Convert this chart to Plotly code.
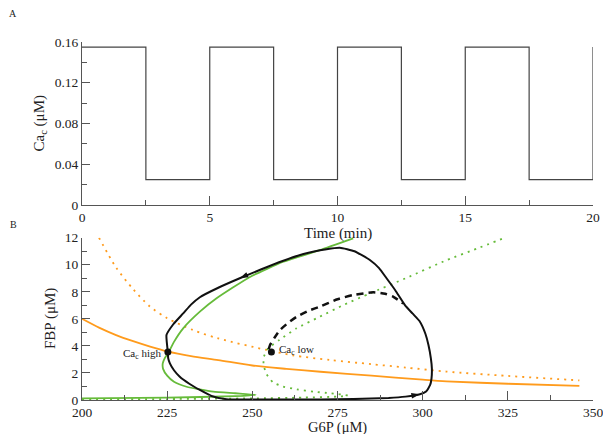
import plotly.graph_objects as go

# ---------------- Panel A data ----------------
time_min = [0, 2.5, 2.5, 5, 5, 7.5, 7.5, 10, 10, 12.5, 12.5, 15, 15, 17.5, 17.5, 20, 20]
ca_c = [0.155, 0.155, 0.025, 0.025, 0.155, 0.155, 0.025, 0.025, 0.155, 0.155,
        0.025, 0.025, 0.155, 0.155, 0.025, 0.025, 0.155]

# ---------------- Panel B data ----------------
orange_solid_x = [200, 205, 210, 215, 220, 225, 232, 240, 250, 260, 270, 285, 300, 307, 325, 346]
orange_solid_y = [6.0, 5.35, 4.8, 4.35, 3.95, 3.6, 3.25, 2.95, 2.55, 2.3, 2.09, 1.8, 1.5, 1.38, 1.2, 1.05]

orange_dot_x = [205, 210, 215, 220, 225, 232.6, 240, 254.2, 262, 272.8, 285, 295, 307, 325, 346]
orange_dot_y = [12.0, 9.8, 8.2, 6.9, 6.05, 5.17, 4.55, 3.7, 3.3, 2.96, 2.65, 2.4, 2.1, 1.78, 1.45]

green_solid_x = [200, 225, 245, 251, 245, 238.5, 230.7, 227, 225, 223.8, 223.7, 224.3, 225.4,
                 227, 229.7, 234.6, 239.5, 249.3, 259.1, 269.8, 279.6]
green_solid_y = [0.12, 0.18, 0.28, 0.38, 0.5, 0.62, 0.98, 1.35, 1.8, 2.3, 2.7, 3.1, 3.52,
                 4.3, 5.3, 6.53, 7.52, 9.1, 10.22, 11.08, 11.95]

green_dot_x = [200, 225, 250, 265, 275, 278, 276, 272.8, 268, 263, 259, 256.1, 254.2, 253.3,
               253.4, 254.3, 255.5, 258, 263, 269.8, 277, 284.5, 295, 307.1, 316, 324.7]
green_dot_y = [0.05, 0.07, 0.12, 0.18, 0.25, 0.32, 0.42, 0.5, 0.62, 0.79, 1.0, 1.3, 1.9, 2.6,
               3.2, 3.7, 4.0, 4.45, 5.3, 6.16, 7.05, 7.88, 9.0, 10.35, 11.2, 12.05]

loop_x = [225.2, 224.8, 226.8, 229.7, 232, 234.6, 240, 246.3, 252.5, 259.1, 265, 271.8, 275.7,
          280, 284.5, 287.2, 289.4, 292, 294.8, 297, 299.2, 300.8, 301.7, 302.4, 302.7, 302.6,
          302.2, 301, 299.2, 295, 290, 279.7, 270, 260, 250, 242.4, 238, 234.6, 231.5, 228.7,
          227, 225.8, 225.3, 225.2]
loop_y = [3.55, 4.8, 5.6, 6.4, 7.05, 7.6, 8.3, 9.0, 9.65, 10.3, 10.8, 11.15, 11.26,
          11.0, 10.35, 9.75, 9.0, 8.1, 7.02, 6.4, 5.79, 4.9, 4.07, 3.1, 2.34, 1.6,
          1.11, 0.62, 0.42, 0.25, 0.15, 0.07, 0.04, 0.03, 0.03, 0.06, 0.3, 0.74, 1.2, 1.72,
          2.2, 2.71, 3.1, 3.55]

dash_x = [254.8, 255.2, 256.5, 258.1, 260.5, 263, 266.5, 269.8, 275, 279.6, 285.5, 289,
          291.4, 294.3]
dash_y = [3.75, 4.07, 4.6, 5.17, 5.7, 6.15, 6.6, 6.9, 7.45, 7.76, 7.96, 7.85, 7.63, 7.13]

fp_x = [225.2, 255.6]
fp_y = [3.55, 3.55]
fp_labels = ["Ca<sub>c</sub> high", "Ca<sub>c</sub> low"]

arrow_x = [246.3, 299.2]
arrow_y = [9.0, 0.42]
arrow_angle = [245, 80]

GREEN = "#66bb3a"
ORANGE = "#ff9b1c"
AXC = "#555555"
FONT = "Liberation Serif"

fig = go.Figure()

fig.add_trace(go.Scatter(x=time_min, y=ca_c, mode="lines",
                         line=dict(color="#444444", width=1.2), xaxis="x", yaxis="y"))

spl = dict(line_shape="spline")
fig.add_trace(go.Scatter(x=orange_dot_x, y=orange_dot_y, mode="lines", **spl,
                         line=dict(color=ORANGE, width=1.8, dash="2px,5px", smoothing=0.8),
                         xaxis="x2", yaxis="y2"))
fig.add_trace(go.Scatter(x=green_dot_x, y=green_dot_y, mode="lines", **spl,
                         line=dict(color=GREEN, width=1.8, dash="2px,5px", smoothing=0.6),
                         xaxis="x2", yaxis="y2"))
fig.add_trace(go.Scatter(x=orange_solid_x, y=orange_solid_y, mode="lines", **spl,
                         line=dict(color=ORANGE, width=1.8, smoothing=0.8), xaxis="x2", yaxis="y2"))
fig.add_trace(go.Scatter(x=green_solid_x, y=green_solid_y, mode="lines", **spl,
                         line=dict(color=GREEN, width=1.8, smoothing=0.5), xaxis="x2", yaxis="y2"))
fig.add_trace(go.Scatter(x=loop_x, y=loop_y, mode="lines", **spl,
                         line=dict(color="#111111", width=2, smoothing=0.45), xaxis="x2", yaxis="y2"))
fig.add_trace(go.Scatter(x=dash_x, y=dash_y, mode="lines", **spl,
                         line=dict(color="#111111", width=2.5, dash="7px,5px", smoothing=0.6),
                         xaxis="x2", yaxis="y2"))
fig.add_trace(go.Scatter(x=arrow_x, y=arrow_y, mode="markers",
                         marker=dict(symbol="arrow", angle=arrow_angle, size=9, color="#111111"),
                         xaxis="x2", yaxis="y2"))
fig.add_trace(go.Scatter(x=fp_x, y=fp_y, mode="markers",
                         marker=dict(symbol="circle", size=7, color="#111111"),
                         xaxis="x2", yaxis="y2"))

# the page body has an 8px margin: work in screen pixels and subtract it
OFF = 8
W, H = 600, 426
L = 82 - OFF
T = 42 - OFF
R = W - (593 - OFF)
B = H - (400 - OFF)
PW, PH = W - L - R, H - T - B
def px(x):
    return (x - OFF - L) / PW
def py(y):
    return (H - B - (y - OFF)) / PH

tickfont = dict(family=FONT, size=13.5, color="#222222")
common = dict(showgrid=False, zeroline=False, showline=True, linecolor=AXC, linewidth=1,
              ticks="inside", tickcolor=AXC, tickfont=tickfont, mirror=False, automargin=False)

fig.update_layout(
    width=W, height=H, autosize=False,
    margin=dict(l=L, r=R, t=T, b=B, pad=0),
    paper_bgcolor="white", plot_bgcolor="white",
    showlegend=False,
    xaxis=dict(domain=[0, 1], range=[0, 20], dtick=5, ticklen=9,
               minor=dict(ticks="inside", dtick=2.5, ticklen=5, tickcolor=AXC),
               anchor="y", **common),
    yaxis=dict(domain=[py(205), py(42)], range=[0, 0.16], dtick=0.04, ticklen=8,
               minor=dict(ticks="inside", dtick=0.02, ticklen=5, tickcolor=AXC),
               anchor="x", **common),
    xaxis2=dict(domain=[0, 1], range=[200, 350], dtick=25, ticklen=9,
                minor=dict(ticks="inside", dtick=12.5, ticklen=5, tickcolor=AXC),
                anchor="y2", **common),
    yaxis2=dict(domain=[py(400), py(237.7)], range=[0, 12], dtick=2, ticklen=8,
                minor=dict(ticks="inside", dtick=1, ticklen=5, tickcolor=AXC),
                anchor="x2", **common),
)

ann_font = dict(family=FONT, size=15, color="#222222")
small = dict(family=FONT, size=11, color="#222222")
annotations = [
    dict(text="A", x=px(13), y=py(14), xref="paper", yref="paper", showarrow=False,
         xanchor="center", yanchor="middle", font=dict(family=FONT, size=10, color="#222222")),
    dict(text="B", x=px(13), y=py(224), xref="paper", yref="paper", showarrow=False,
         xanchor="center", yanchor="middle", font=dict(family=FONT, size=10, color="#222222")),
    dict(text="Time (min)", x=px(338), y=py(233), xref="paper", yref="paper",
         xanchor="center", yanchor="middle", showarrow=False, font=ann_font),
    dict(text="Ca<sub>c</sub> (μM)", x=px(39), y=py(123.5), xref="paper", yref="paper",
         xanchor="center", yanchor="middle", showarrow=False, textangle=-90, font=ann_font),
    dict(text="G6P (μM)", x=px(337), y=py(427), xref="paper", yref="paper",
         xanchor="center", yanchor="middle", showarrow=False,
         font=dict(family=FONT, size=14.5, color="#222222")),
    dict(text="FBP (μM)", x=px(50), y=py(319), xref="paper", yref="paper",
         xanchor="center", yanchor="middle", showarrow=False, textangle=-90, font=ann_font),
    dict(text=fp_labels[0], x=fp_x[0], y=fp_y[0], xref="x2", yref="y2", showarrow=False,
         xanchor="right", xshift=-5, yshift=-2, font=small),
    dict(text=fp_labels[1], x=fp_x[1], y=fp_y[1], xref="x2", yref="y2", showarrow=False,
         xanchor="left", xshift=6, yshift=2, font=small),
]
fig.update_layout(annotations=annotations)

fig.write_html("out.html")
